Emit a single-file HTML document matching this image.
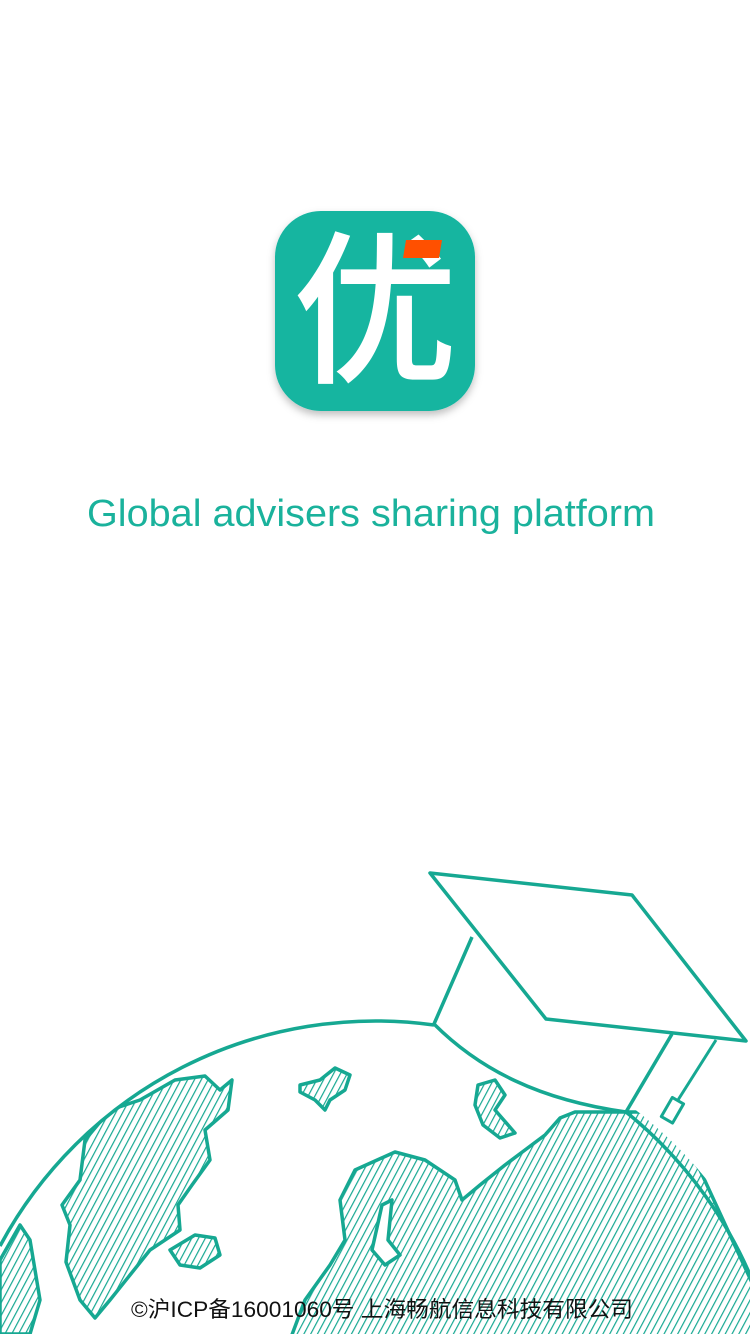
<!DOCTYPE html>
<html><head><meta charset="utf-8"><style>
html,body{margin:0;padding:0;background:#fff;}
svg{display:block}
</style></head><body>
<svg width="750" height="1334" viewBox="0 0 750 1334">
<defs>
<pattern id="hatch" width="6" height="6" patternUnits="userSpaceOnUse" patternTransform="rotate(28)">
<line x1="0" y1="0" x2="0" y2="6" stroke="#16a892" stroke-width="2.4"/>
</pattern>
<clipPath id="globeclip"><circle cx="375" cy="1447" r="426"/></clipPath>
<filter id="sh" x="-20%" y="-20%" width="140%" height="140%"><feDropShadow dx="0" dy="4" stdDeviation="4" flood-color="#000" flood-opacity="0.25"/></filter>
</defs>

<g>
<rect x="275" y="211" width="200" height="200" rx="46" fill="#12b5a0" filter="url(#sh)"/>
<text x="375" y="370" text-anchor="middle" font-family="'Noto Sans CJK SC',sans-serif" font-weight="500" font-size="165" fill="#fff">优</text>
<polygon points="406,240 442,240 439,258 403,258" fill="#ff5000"/>
</g>

<text x="371" y="526" text-anchor="middle" textLength="568" lengthAdjust="spacingAndGlyphs" font-family="'Liberation Sans',sans-serif" font-size="38" fill="#1ab29c">Global advisers sharing platform</text>

<g stroke="#16a892" stroke-width="3.5" stroke-linejoin="round">
<g clip-path="url(#globeclip)">
<path fill="url(#hatch)" d="M175,1080 L205,1076 L220,1090 L232,1080 L228,1110 L205,1130 L210,1160 L192,1185 L178,1205 L180,1230 L150,1250 L130,1275 L110,1300 L95,1318 L80,1300 L66,1262 L70,1225 L62,1205 L80,1180 L85,1140 L110,1110 L140,1100 Z"/>
<path fill="url(#hatch)" d="M20,1225 L30,1240 L35,1270 L40,1300 L30,1334 L0,1334 L0,1260 Z"/>
<path fill="url(#hatch)" d="M300,1085 L320,1080 L335,1068 L350,1075 L345,1090 L330,1100 L325,1110 L315,1100 L300,1092 Z"/>
<path fill="url(#hatch)" d="M170,1250 L195,1235 L215,1238 L220,1255 L200,1268 L180,1265 Z"/>
<path fill="url(#hatch)" d="M478,1085 L495,1080 L505,1095 L495,1110 L515,1133 L500,1138 L483,1125 L475,1105 Z"/>
<path fill="url(#hatch)" d="M575,1112 L626,1112 L660,1112 L700,1170 L760,1300 L760,1340 L290,1340 L305,1300 L330,1265 L345,1240 L340,1200 L355,1170 L395,1152 L425,1160 L455,1180 L462,1200 L480,1185 L505,1165 L525,1150 L545,1135 L560,1118 Z"/>
<path fill="#fff" d="M382,1205 L392,1200 L388,1240 L400,1255 L385,1265 L372,1250 Z"/>
</g>
<path fill="none" d="M0,1246 A426,426 0 0 1 434,1025"/>
<path fill="none" d="M626,1112 A426,426 0 0 1 760,1300"/>
<path fill="#fff" d="M430,873 L632,895 L746,1041 L546,1019 Z"/>
<path fill="none" d="M472,937 L434,1024 C480,1070 540,1100 626,1112 L672,1034"/>
<path fill="none" stroke-width="3" d="M716,1040 L678,1100"/>
<rect x="666" y="1099" width="13" height="22" fill="#fff" stroke-width="3" transform="rotate(30 672 1110)"/>
</g>

<text x="382" y="1317" text-anchor="middle" textLength="502" lengthAdjust="spacingAndGlyphs" font-family="'Liberation Sans','Noto Sans CJK SC',sans-serif" font-size="22" fill="#111">©沪ICP备16001060号 上海畅航信息科技有限公司</text>
</svg>
</body></html>
